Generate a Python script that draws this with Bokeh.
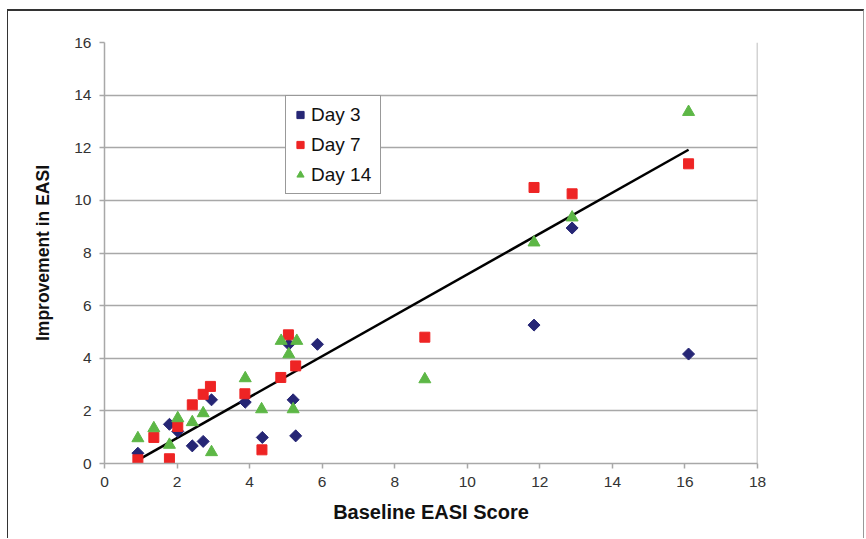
import math
from bokeh.plotting import figure
from bokeh.models import Range1d, Span, Legend, LegendItem, FixedTicker
from bokeh.embed import file_html
from bokeh.resources import INLINE

# ---- data ----
x_day3 = [0.92, 1.79, 2.02, 2.42, 2.72, 2.95, 3.88, 4.35, 5.08, 5.20, 5.27, 5.87, 11.84, 12.89, 16.10]
y_day3 = [0.39, 1.49, 1.22, 0.67, 0.84, 2.42, 2.33, 0.99, 4.53, 2.42, 1.05, 4.53, 5.26, 8.95, 4.16]

x_day7 = [0.92, 1.36, 1.79, 2.02, 2.42, 2.72, 2.92, 3.87, 4.34, 4.86, 5.07, 5.27, 8.83, 11.84, 12.89, 16.10]
y_day7 = [0.14, 0.99, 0.18, 1.41, 2.23, 2.63, 2.93, 2.65, 0.52, 3.27, 4.89, 3.71, 4.80, 10.49, 10.25, 11.39]

x_day14 = [0.92, 1.36, 1.79, 2.02, 2.42, 2.72, 2.95, 3.88, 4.33, 4.87, 5.08, 5.20, 5.30, 8.83, 11.84, 12.89, 16.10]
y_day14 = [0.96, 1.34, 0.71, 1.72, 1.57, 1.91, 0.43, 3.24, 2.06, 4.66, 4.15, 2.06, 4.66, 3.20, 8.40, 9.35, 13.36]

trend_slope = 0.777
trend_intercept = -0.585

x_ticks = [0, 2, 4, 6, 8, 10, 12, 14, 16, 18]
y_ticks = [0, 2, 4, 6, 8, 10, 12, 14, 16]
series_names = ["Day 3", "Day 7", "Day 14"]

# ---- figure ----
p = figure(width=857, height=529, x_range=Range1d(0, 18), y_range=Range1d(0, 16),
           output_backend="svg", toolbar_location=None,
           min_border_left=96, min_border_right=108, min_border_top=31, min_border_bottom=77)
p.styles = {"margin-left": "7px", "margin-top": "9px",
            "border-left": "1px solid #333333", "border-top": "2px solid #333333",
            "border-right": "1px solid #999999"}
p.outline_line_color = None
p.background_fill_color = "white"
p.border_fill_color = "white"

p.xgrid.visible = False
p.ygrid.grid_line_color = "#a8a8a8"
p.ygrid.grid_line_width = 1.5

p.xaxis.ticker = FixedTicker(ticks=x_ticks)
p.yaxis.ticker = FixedTicker(ticks=y_ticks)
for ax in (p.xaxis[0], p.yaxis[0]):
    ax.axis_line_color = "#a8a8a8"
    ax.axis_line_width = 1.5
    ax.major_tick_line_color = "#a8a8a8"
    ax.major_tick_line_width = 1.5
    ax.major_tick_out = 5
    ax.major_tick_in = 0
    ax.minor_tick_line_color = None
    ax.major_label_text_font = "Liberation Sans"
    ax.major_label_text_font_size = "15.5px"
    ax.major_label_text_color = "#333333"
    ax.axis_label_text_font = "Liberation Sans"
    ax.axis_label_text_font_style = "bold"
    ax.axis_label_text_color = "#111111"

p.xaxis.axis_label = "Baseline EASI Score"
p.yaxis.axis_label = "Improvement in EASI"
p.xaxis.axis_label_text_font_size = "20px"
p.yaxis.axis_label_text_font_size = "17.5px"
p.xaxis.major_label_standoff = 8
p.xaxis.axis_label_standoff = 11
p.yaxis.major_label_standoff = 8
p.yaxis.axis_label_standoff = 18

# right frame edge
p.add_layout(Span(location=18, dimension="height", line_color="#a8a8a8", line_width=1.5))

# trend line
all_x = x_day3 + x_day7 + x_day14
tx = [min(all_x), max(all_x)]
ty = [trend_slope * v + trend_intercept for v in tx]
p.line(tx, ty, line_color="black", line_width=2.5)

r3 = p.scatter(x_day3, y_day3, marker="square", angle=math.pi / 4, size=8.5,
               fill_color="#262675", line_color="#262675")
r7 = p.scatter(x_day7, y_day7, marker="square", size=10,
               fill_color="#ee2424", line_color="#ee2424")
r14 = p.scatter(x_day14, y_day14, marker="triangle", size=12,
                fill_color="#5db746", line_color="#5db746")

legend = Legend(items=[LegendItem(label=series_names[0], renderers=[r3]),
                       LegendItem(label=series_names[1], renderers=[r7]),
                       LegendItem(label=series_names[2], renderers=[r14])],
                location=(181, 269))
legend.border_line_color = "#333333"
legend.border_line_width = 1
legend.background_fill_color = "white"
legend.background_fill_alpha = 1
legend.padding = 5
legend.margin = 0
legend.spacing = 3
legend.glyph_height = 27
legend.glyph_width = 18
legend.label_height = 27
legend.label_width = 64
legend.label_standoff = 2
legend.label_text_font = "Liberation Sans"
legend.label_text_font_size = "19px"
legend.label_text_color = "#111111"
p.add_layout(legend, "center")

open("out.html", "w").write(file_html(p, INLINE))
